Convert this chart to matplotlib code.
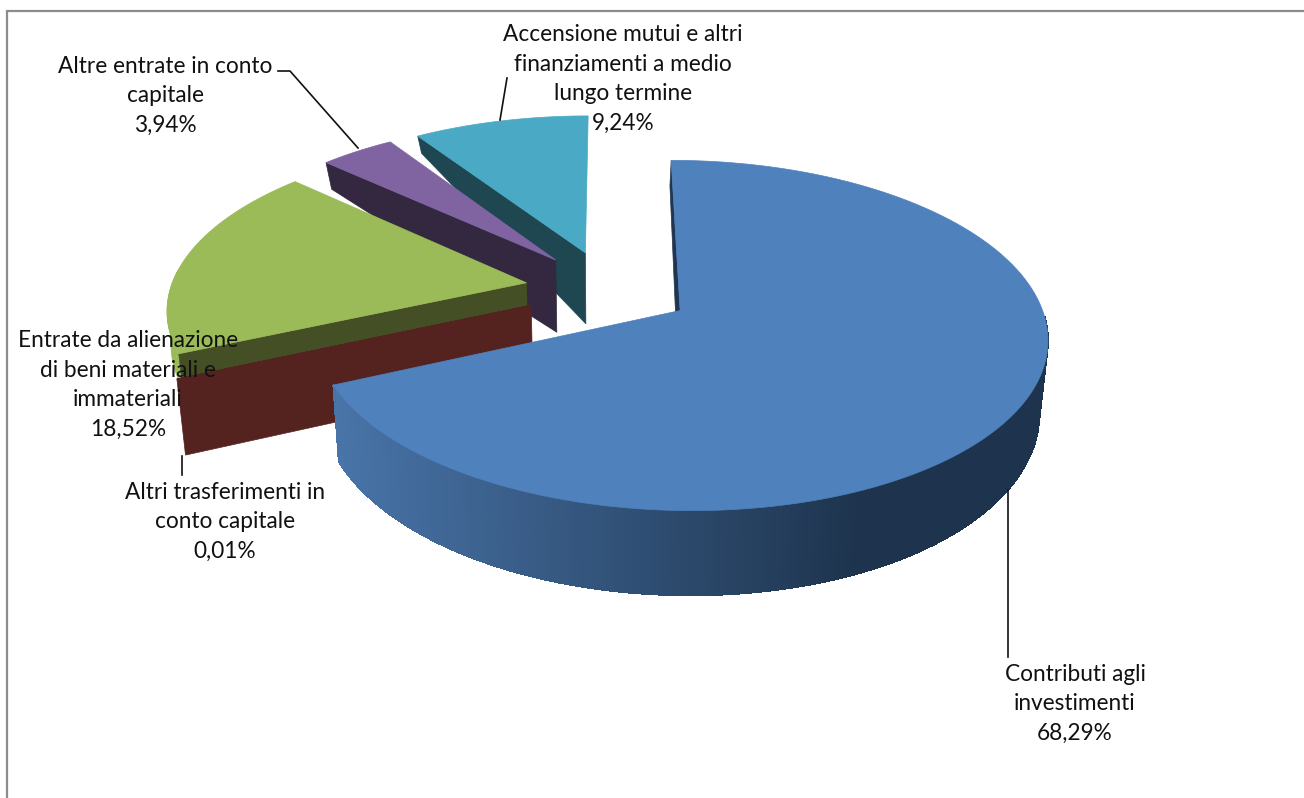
import numpy as np
import matplotlib
matplotlib.use("Agg")
import matplotlib.pyplot as plt
from matplotlib.colors import to_rgb
from matplotlib.patches import Polygon

plt.rcParams['font.family'] = ['Lato', 'DejaVu Sans']

# slices, clockwise from the top
values = [68.29, 0.01, 18.52, 3.94, 9.24]
names = ["Contributi agli\ninvestimenti", "Altri trasferimenti in\nconto capitale",
         "Entrate da alienazione\ndi beni materiali e\nimmateriali",
         "Altre entrate in conto\ncapitale", "Accensione mutui e altri\nfinanziamenti a medio\nlungo termine"]
top_colors = ["#4f81bd", "#55231f", "#9bbb59", "#8064a2", "#4aa9c4"]
cut_colors = ["#1f3550", "#55231f", "#454f25", "#33283f", "#1f4752"]
label_xy = [(1075, 704), (225, 522), (128, 385), (165, 96), (623, 79)]

# projection of the pie plane to the picture
X0, Y0, A, B, K = 608.6, 289, 356, 165.5, 0.14
EXPLODE = 0.235
SHRINK = 0.98
depth_v = [-1.15, -0.5, 0.21, 0.95, 1.15]
depth_px = [85, 76, 72, 20, 15]


def top(u, v):
    w = 1 + K * v
    return X0 + A * u / w, Y0 - B * v / w


def bottom(u, v):
    x, y = top(u, v)
    return X0 + SHRINK * (x - X0), y + np.interp(v, depth_v, depth_px)


def rim(center, a):
    return center[0] + np.sin(a), center[1] + np.cos(a)


def xy(func, u, v):
    return np.column_stack(func(u, v))


fig = plt.figure(figsize=(13.04, 7.98), dpi=100)
ax = fig.add_axes([0, 0, 1, 1])
ax.set_xlim(0, 1304)
ax.set_ylim(798, 0)
ax.axis("off")

# frame of the chart area, it runs off the picture on the right and below
ax.add_patch(Polygon([(6.5, 810), (6.5, 10.5), (1320, 10.5), (1320, 810)], closed=True,
                     fill=False, ec="#8c8c8c", lw=1.6, zorder=0))

edges = np.cumsum([0] + values) / sum(values) * 2 * np.pi
centers = []
for i in range(len(values)):
    mid = (edges[i] + edges[i + 1]) / 2
    centers.append((EXPLODE * np.sin(mid), EXPLODE * np.cos(mid)))


def cut_face(i, a):
    c = centers[i]
    ru, rv = rim(c, a)
    p = [top(*c), top(ru, rv), bottom(ru, rv), bottom(*c)]
    return Polygon(p, closed=True, fc=cut_colors[i], ec=cut_colors[i], lw=0.5)


def top_face(i):
    c = centers[i]
    a = np.linspace(edges[i], edges[i + 1], 200)
    u, v = rim(c, a)
    p = np.vstack([top(*c), xy(top, u, v)])
    return Polygon(p, closed=True, fc=top_colors[i], ec=top_colors[i], lw=0.5)


# back to front: teal, purple, green, red, blue
ax.add_patch(cut_face(4, edges[4]))
ax.add_patch(top_face(4))
ax.add_patch(cut_face(3, edges[3]))
ax.add_patch(top_face(3))

# outer wall of the green slice, only a sliver of it stays visible
a = np.linspace(edges[2], edges[2] + 0.5, 40)
u, v = rim(centers[2], a)
tp = xy(top, u, v)
bt = xy(bottom, u, v)
bt = tp + (bt - tp) * 0.45
ax.add_patch(Polygon(np.vstack([tp, bt[::-1]]), closed=True,
                     fc=top_colors[2], ec=top_colors[2], lw=0.5))
ax.add_patch(cut_face(2, edges[2]))
ax.add_patch(top_face(2))

ax.add_patch(cut_face(1, edges[1]))
ax.add_patch(top_face(1))

# blue outer wall, shaded left to right
left_c = np.array(to_rgb("#4874a8"))
right_c = np.array(to_rgb("#1e344e"))
a = np.linspace(np.radians(92), edges[1], 300)
u, v = rim(centers[0], a)
tp = xy(top, u, v)
bt = xy(bottom, u, v)
for j in range(len(a) - 1):
    t = np.clip((tp[j, 0] - 335) / (860 - 335), 0, 1)
    col = left_c + (right_c - left_c) * t
    ax.add_patch(Polygon([tp[j], tp[j + 1], bt[j + 1], bt[j]], closed=True,
                         fc=col, ec=col, lw=0.6, antialiased=False))
ax.add_patch(cut_face(0, edges[0]))
ax.add_patch(top_face(0))

# leader lines
for line in [[(1008, 490), (1008, 657)], [(182, 456), (182, 475)],
             [(278, 71), (290, 71), (358, 148)], [(500, 120), (507, 78)]]:
    ax.plot(*zip(*line), color="#111111", lw=1.2, zorder=5)

for name, val, pos in zip(names, values, label_xy):
    txt = name + "\n" + f"{val:.2f}".replace(".", ",") + "%"
    ax.text(pos[0], pos[1], txt, ha="center", va="center", fontsize=16.3,
            linespacing=1.52, color="#111111", zorder=6)

fig.savefig("out.png", dpi=100)
